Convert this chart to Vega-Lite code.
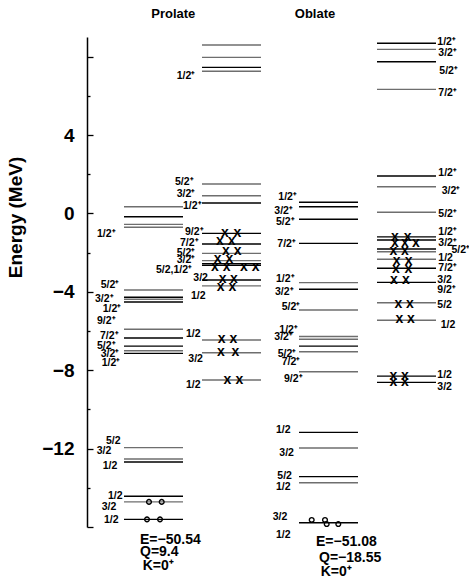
{
  "$schema": "https://vega.github.io/schema/vega-lite/v6.json",
  "width": 380,
  "height": 490,
  "autosize": {"type": "none"},
  "padding": {"left": 87, "top": 37, "right": 2, "bottom": 52},
  "config": {"view": {"stroke": null}, "font": "Liberation Sans", "text": {"font": "Liberation Sans", "fontWeight": "bold"}},
  "datasets": {
    "cols": [
      {"c": "A", "x": 3.7, "x2": 9.6},
      {"c": "B", "x": 11.5, "x2": 17.4},
      {"c": "C", "x": 21.2, "x2": 27.1},
      {"c": "D", "x": 29.0, "x2": 34.9}
    ],
    "levels": [
      {"c": "A", "e": 0.34, "tone": "gray"}, {"c": "A", "e": -0.17, "tone": "black"}, {"c": "A", "e": -0.56, "tone": "gray"}, {"c": "A", "e": -0.71, "tone": "gray"},
      {"c": "A", "e": -3.91, "tone": "gray"}, {"c": "A", "e": -4.28, "tone": "black"}, {"c": "A", "e": -4.38, "tone": "gray"}, {"c": "A", "e": -4.52, "tone": "black"},
      {"c": "A", "e": -5.91, "tone": "gray"}, {"c": "A", "e": -6.36, "tone": "black"}, {"c": "A", "e": -6.77, "tone": "black"}, {"c": "A", "e": -7.01, "tone": "gray"}, {"c": "A", "e": -7.14, "tone": "black"},
      {"c": "A", "e": -11.95, "tone": "gray"}, {"c": "A", "e": -12.53, "tone": "gray"}, {"c": "A", "e": -12.68, "tone": "black"},
      {"c": "A", "e": -14.43, "tone": "black"}, {"c": "A", "e": -14.72, "tone": "gray"}, {"c": "A", "e": -15.61, "tone": "black"},
      {"c": "B", "e": 8.59, "tone": "gray"}, {"c": "B", "e": 7.96, "tone": "gray"}, {"c": "B", "e": 7.45, "tone": "black"}, {"c": "B", "e": 7.25, "tone": "gray"},
      {"c": "B", "e": 1.5, "tone": "gray"}, {"c": "B", "e": 0.9, "tone": "gray"}, {"c": "B", "e": 0.53, "tone": "black"},
      {"c": "B", "e": -1.02, "tone": "black"}, {"c": "B", "e": -1.56, "tone": "black"}, {"c": "B", "e": -2.04, "tone": "gray"}, {"c": "B", "e": -2.41, "tone": "gray"},
      {"c": "B", "e": -2.57, "tone": "black"}, {"c": "B", "e": -2.65, "tone": "black"}, {"c": "B", "e": -3.4, "tone": "black"}, {"c": "B", "e": -3.7, "tone": "gray"},
      {"c": "B", "e": -6.46, "tone": "gray"}, {"c": "B", "e": -7.11, "tone": "gray"}, {"c": "B", "e": -8.5, "tone": "gray"},
      {"c": "C", "e": 0.57, "tone": "black"}, {"c": "C", "e": 0.34, "tone": "black"}, {"c": "C", "e": -0.3, "tone": "black"}, {"c": "C", "e": -1.53, "tone": "black"},
      {"c": "C", "e": -3.53, "tone": "gray"}, {"c": "C", "e": -3.87, "tone": "black"}, {"c": "C", "e": -4.93, "tone": "gray"},
      {"c": "C", "e": -6.28, "tone": "gray"}, {"c": "C", "e": -6.42, "tone": "gray"}, {"c": "C", "e": -6.77, "tone": "black"}, {"c": "C", "e": -7.06, "tone": "gray"}, {"c": "C", "e": -8.08, "tone": "gray"},
      {"c": "C", "e": -11.17, "tone": "black"}, {"c": "C", "e": -11.97, "tone": "gray"}, {"c": "C", "e": -13.43, "tone": "black"}, {"c": "C", "e": -13.74, "tone": "gray"}, {"c": "C", "e": -15.78, "tone": "black"},
      {"c": "D", "e": 8.68, "tone": "black"}, {"c": "D", "e": 8.37, "tone": "gray"}, {"c": "D", "e": 7.74, "tone": "black"}, {"c": "D", "e": 6.33, "tone": "gray"},
      {"c": "D", "e": 1.91, "tone": "black"}, {"c": "D", "e": 1.36, "tone": "gray"}, {"c": "D", "e": 0.06, "tone": "gray"},
      {"c": "D", "e": -1.2, "tone": "black"}, {"c": "D", "e": -1.36, "tone": "black"}, {"c": "D", "e": -1.82, "tone": "black"}, {"c": "D", "e": -1.96, "tone": "gray"},
      {"c": "D", "e": -2.34, "tone": "gray"}, {"c": "D", "e": -2.8, "tone": "black"}, {"c": "D", "e": -3.52, "tone": "black"}, {"c": "D", "e": -4.56, "tone": "gray"},
      {"c": "D", "e": -5.45, "tone": "gray"}, {"c": "D", "e": -8.3, "tone": "black"}, {"c": "D", "e": -8.62, "tone": "black"}
    ],
    "crosses": [
      {"x": 13.8, "e": -0.98}, {"x": 15.03, "e": -0.98},
      {"x": 13.3, "e": -1.41}, {"x": 14.47, "e": -1.41},
      {"x": 13.9, "e": -1.9}, {"x": 15.07, "e": -1.9},
      {"x": 13.07, "e": -2.34}, {"x": 14.23, "e": -2.34},
      {"x": 12.8, "e": -2.72}, {"x": 13.97, "e": -2.72}, {"x": 15.7, "e": -2.72}, {"x": 16.87, "e": -2.72},
      {"x": 13.57, "e": -3.33}, {"x": 14.7, "e": -3.33},
      {"x": 13.37, "e": -3.77}, {"x": 14.53, "e": -3.77},
      {"x": 13.47, "e": -6.42}, {"x": 14.63, "e": -6.42},
      {"x": 13.4, "e": -7.06}, {"x": 14.83, "e": -7.06},
      {"x": 14.03, "e": -8.5}, {"x": 15.23, "e": -8.5},
      {"x": 30.8, "e": -1.19}, {"x": 32.07, "e": -1.19},
      {"x": 30.8, "e": -1.53}, {"x": 31.8, "e": -1.53}, {"x": 32.9, "e": -1.5},
      {"x": 30.63, "e": -1.92}, {"x": 31.8, "e": -1.92},
      {"x": 30.97, "e": -2.41}, {"x": 32.17, "e": -2.41},
      {"x": 30.9, "e": -2.84}, {"x": 32.13, "e": -2.84},
      {"x": 30.7, "e": -3.4}, {"x": 31.9, "e": -3.4},
      {"x": 31.13, "e": -4.61}, {"x": 32.3, "e": -4.61},
      {"x": 31.23, "e": -5.4}, {"x": 32.4, "e": -5.4},
      {"x": 30.63, "e": -8.3}, {"x": 31.8, "e": -8.3},
      {"x": 30.63, "e": -8.59}, {"x": 31.8, "e": -8.59}
    ],
    "circles": [
      {"x": 6.2, "e": -14.72}, {"x": 7.47, "e": -14.72},
      {"x": 6.0, "e": -15.61}, {"x": 7.3, "e": -15.61},
      {"x": 22.47, "e": -15.64}, {"x": 23.8, "e": -15.64},
      {"x": 23.97, "e": -15.85}, {"x": 25.13, "e": -15.85}
    ],
    "labels": [
      {"t": "1/2⁺", "x": 1.0, "e": -1.05}, {"t": "5/2⁺", "x": 1.37, "e": -3.64}, {"t": "3/2⁺", "x": 0.8, "e": -4.37},
      {"t": "1/2⁺", "x": 1.57, "e": -4.88}, {"t": "9/2⁺", "x": 1.0, "e": -5.47}, {"t": "7/2⁺", "x": 1.3, "e": -6.26},
      {"t": "5/2⁺", "x": 1.0, "e": -6.75}, {"t": "3/2⁺", "x": 1.37, "e": -7.17}, {"t": "1/2⁺", "x": 1.47, "e": -7.63},
      {"t": "5/2", "x": 1.9, "e": -11.63}, {"t": "3/2", "x": 0.97, "e": -12.11}, {"t": "1/2", "x": 1.57, "e": -12.87},
      {"t": "1/2", "x": 2.1, "e": -14.4}, {"t": "3/2", "x": 1.47, "e": -14.96}, {"t": "1/2", "x": 1.7, "e": -15.64},
      {"t": "1/2⁺", "x": 8.97, "e": 7.03}, {"t": "5/2⁺", "x": 8.8, "e": 1.62}, {"t": "3/2⁺", "x": 8.97, "e": 0.99},
      {"t": "1/2⁺", "x": 9.6, "e": 0.39}, {"t": "9/2⁺", "x": 9.8, "e": -0.93}, {"t": "7/2⁺", "x": 9.3, "e": -1.53},
      {"t": "5/2⁺", "x": 8.97, "e": -2.04}, {"t": "3/2⁺", "x": 8.97, "e": -2.38}, {"t": "5/2,1/2⁺", "x": 6.9, "e": -2.89},
      {"t": "3/2", "x": 10.63, "e": -3.31}, {"t": "1/2", "x": 10.4, "e": -4.19}, {"t": "1/2", "x": 9.9, "e": -6.17},
      {"t": "3/2", "x": 10.13, "e": -7.43}, {"t": "1/2", "x": 9.9, "e": -8.76},
      {"t": "1/2⁺", "x": 19.13, "e": 0.82}, {"t": "3/2⁺", "x": 18.73, "e": 0.14}, {"t": "5/2⁺", "x": 18.9, "e": -0.45},
      {"t": "7/2⁺", "x": 19.03, "e": -1.58}, {"t": "1/2⁺", "x": 18.9, "e": -3.35}, {"t": "3/2⁺", "x": 18.8, "e": -4.03},
      {"t": "5/2⁺", "x": 19.47, "e": -4.79}, {"t": "1/2⁺", "x": 19.23, "e": -5.95}, {"t": "3/2⁺", "x": 18.73, "e": -6.29},
      {"t": "5/2⁺", "x": 19.07, "e": -7.17}, {"t": "7/2⁺", "x": 19.47, "e": -7.57}, {"t": "9/2⁺", "x": 19.7, "e": -8.43},
      {"t": "1/2", "x": 18.9, "e": -11.05}, {"t": "3/2", "x": 19.23, "e": -12.24}, {"t": "5/2", "x": 19.03, "e": -13.4},
      {"t": "1/2", "x": 18.9, "e": -13.94}, {"t": "3/2", "x": 18.57, "e": -15.51}, {"t": "1/2", "x": 18.9, "e": -16.41},
      {"t": "1/2⁺", "x": 35.03, "e": 8.76}, {"t": "3/2⁺", "x": 35.13, "e": 8.17}, {"t": "5/2⁺", "x": 35.23, "e": 7.27},
      {"t": "7/2⁺", "x": 35.13, "e": 6.16}, {"t": "1/2⁺", "x": 35.13, "e": 2.05}, {"t": "3/2⁺", "x": 35.47, "e": 1.16},
      {"t": "5/2⁺", "x": 35.13, "e": -0.03}, {"t": "1/2⁺", "x": 35.13, "e": -0.93}, {"t": "3/2⁺", "x": 35.13, "e": -1.49},
      {"t": "5/2⁺", "x": 36.45, "e": -1.87}, {"t": "1/2", "x": 35.13, "e": -2.29}, {"t": "7/2⁺", "x": 35.13, "e": -2.77},
      {"t": "3/2", "x": 35.03, "e": -3.4}, {"t": "9/2⁺", "x": 35.03, "e": -3.91}, {"t": "5/2", "x": 35.03, "e": -4.69},
      {"t": "1/2", "x": 35.37, "e": -5.68}, {"t": "1/2", "x": 35.03, "e": -8.26}, {"t": "3/2", "x": 35.03, "e": -8.84}
    ],
    "notes": [
      {"t": "E=−50.54", "x": 5.3, "e": -16.66}, {"t": "Q=9.4", "x": 5.3, "e": -17.26}, {"t": "K=0⁺", "x": 5.57, "e": -17.97},
      {"t": "E=−51.08", "x": 22.9, "e": -16.78}, {"t": "Q=−18.55", "x": 23.2, "e": -17.6}, {"t": "K=0⁺", "x": 23.37, "e": -18.28}
    ],
    "heads": [
      {"t": "Prolate", "x": 8.63, "e": 10.17}, {"t": "Oblate", "x": 22.8, "e": 10.17}
    ]
  },
  "layer": [
    {
      "data": {"name": "levels"},
      "transform": [{"lookup": "c", "from": {"data": {"name": "cols"}, "key": "c", "fields": ["x", "x2"]}}],
      "mark": {"type": "rule", "strokeWidth": 1.4},
      "encoding": {
        "x": {"field": "x", "type": "quantitative", "scale": {"domain": [0, 38], "nice": false, "zero": false}, "axis": null},
        "x2": {"field": "x2"},
        "y": {"field": "e", "type": "quantitative", "scale": {"domain": [-16, 9], "nice": false, "zero": false},
          "axis": {"orient": "left", "values": [-16, -15.5, -15, -14.5, -14, -13.5, -13, -12.5, -12, -11.5, -11, -10.5, -10, -9.5, -9, -8.5, -8, -7.5, -7, -6.5, -6, -5.5, -5, -4.5, -4, -3.5, -3, -2.5, -2, -1.5, -1, -0.5, 0, 0.5, 1, 1.5, 2, 2.5, 3, 3.5, 4, 4.5, 5, 5.5, 6, 6.5, 7, 7.5, 8, 8.5, 9],
            "labelExpr": "(datum.value % 4 === 0 && datum.value > -16 && datum.value < 8) ? datum.label : ''",
            "title": "Energy (MeV)", "grid": false,
            "domain": true, "domainColor": "#000000", "domainWidth": 1.5, "domainOpacity": 1,
            "ticks": true, "tickColor": "#000000", "tickWidth": 1.3, "tickOpacity": 1,
            "tickSize": {"condition": {"test": "datum.value % 4 === 0", "value": -6}, "value": -3},
            "labelFont": "Liberation Sans", "labelFontWeight": "bold", "labelFontSize": 19, "labelColor": "#000", "labelPadding": 19, "labelOverlap": false,
            "titleFont": "Liberation Sans", "titleFontWeight": "bold", "titleFontSize": 19, "titleColor": "#000",
            "titleAngle": -90, "titleX": -72, "titleY": 180, "titleAlign": "center", "titleBaseline": "middle"}},
        "color": {"field": "tone", "type": "nominal", "scale": {"domain": ["black", "gray"], "range": ["#000000", "#6e6e6e"]}, "legend": null}
      }
    },
    {
      "data": {"name": "crosses"},
      "mark": {"type": "text", "text": "x", "fontSize": 14, "fontWeight": "bold", "baseline": "middle", "align": "center", "color": "#000"},
      "encoding": {
        "x": {"field": "x", "type": "quantitative", "scale": {"domain": [0, 38], "nice": false, "zero": false}},
        "y": {"field": "e", "type": "quantitative", "scale": {"domain": [-16, 9], "nice": false, "zero": false}}
      }
    },
    {
      "data": {"name": "circles"},
      "mark": {"type": "point", "shape": "circle", "filled": false, "size": 22, "stroke": "#000", "strokeWidth": 1.4, "opacity": 1},
      "encoding": {
        "x": {"field": "x", "type": "quantitative", "scale": {"domain": [0, 38], "nice": false, "zero": false}},
        "y": {"field": "e", "type": "quantitative", "scale": {"domain": [-16, 9], "nice": false, "zero": false}}
      }
    },
    {
      "data": {"name": "labels"},
      "mark": {"type": "text", "fontSize": 10.5, "fontWeight": "bold", "baseline": "middle", "align": "left", "color": "#000"},
      "encoding": {
        "x": {"field": "x", "type": "quantitative", "scale": {"domain": [0, 38], "nice": false, "zero": false}},
        "y": {"field": "e", "type": "quantitative", "scale": {"domain": [-16, 9], "nice": false, "zero": false}},
        "text": {"field": "t"}
      }
    },
    {
      "data": {"name": "notes"},
      "mark": {"type": "text", "fontSize": 14, "fontWeight": "bold", "baseline": "middle", "align": "left", "color": "#000"},
      "encoding": {
        "x": {"field": "x", "type": "quantitative", "scale": {"domain": [0, 38], "nice": false, "zero": false}},
        "y": {"field": "e", "type": "quantitative", "scale": {"domain": [-16, 9], "nice": false, "zero": false}},
        "text": {"field": "t"}
      }
    },
    {
      "data": {"name": "heads"},
      "mark": {"type": "text", "fontSize": 13, "fontWeight": "bold", "baseline": "middle", "align": "center", "color": "#000"},
      "encoding": {
        "x": {"field": "x", "type": "quantitative", "scale": {"domain": [0, 38], "nice": false, "zero": false}},
        "y": {"field": "e", "type": "quantitative", "scale": {"domain": [-16, 9], "nice": false, "zero": false}},
        "text": {"field": "t"}
      }
    }
  ]
}
